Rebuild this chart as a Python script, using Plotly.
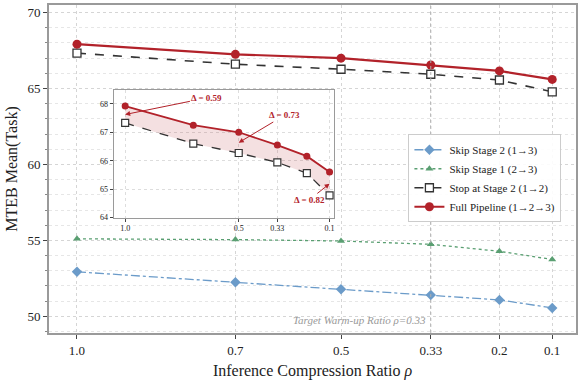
import plotly.graph_objects as go

rho = [1.0, 0.7, 0.5, 0.33, 0.2, 0.1]
rho_labels = ["1.0", "0.7", "0.5", "0.33", "0.2", "0.1"]
skip_stage2 = [52.93, 52.24, 51.78, 51.40, 51.08, 50.55]
skip_stage1 = [55.10, 55.05, 54.96, 54.74, 54.28, 53.74]
stop_stage2 = [67.33, 66.60, 66.27, 65.94, 65.56, 64.78]
full_pipeline = [67.92, 67.25, 67.00, 66.55, 66.16, 65.60]
inset_ticks = [1.0, 0.5, 0.33, 0.1]
inset_tick_labels = ["1.0", "0.5", "0.33", "0.1"]
delta_points = [1.0, 0.5, 0.1]
delta_text_pos = [(0.64, 68.21), (0.30, 67.59), (0.19, 64.62)]

RED = "#b2222a"
BLUE = "#6b9bc9"
GREEN = "#5a9f72"
BLACK = "#333333"
FONT = "Liberation Serif, Times New Roman, serif"

fig = go.Figure()

fig.add_trace(go.Scatter(x=rho, y=skip_stage2, name="Skip Stage 2 (1→3)", mode="lines+markers",
                         line=dict(color=BLUE, width=1.3, dash="dashdot"),
                         marker=dict(symbol="diamond", size=8, color=BLUE)))
fig.add_trace(go.Scatter(x=rho, y=skip_stage1, name="Skip Stage 1 (2→3)", mode="lines+markers",
                         line=dict(color=GREEN, width=1.3, dash="dot"),
                         marker=dict(symbol="triangle-up", size=7, color=GREEN)))
fig.add_trace(go.Scatter(x=rho, y=stop_stage2, name="Stop at Stage 2 (1→2)", mode="lines+markers",
                         line=dict(color=BLACK, width=1.6, dash="dash"),
                         marker=dict(symbol="square", size=8, color="white", line=dict(width=1.3, color=BLACK))))
fig.add_trace(go.Scatter(x=rho, y=full_pipeline, name="Full Pipeline (1→2→3)", mode="lines+markers",
                         line=dict(color=RED, width=2.2),
                         marker=dict(symbol="circle", size=9, color=RED)))

# inset
fig.add_trace(go.Scatter(x=rho, y=stop_stage2, mode="lines+markers", showlegend=False,
                         xaxis="x2", yaxis="y2",
                         line=dict(color=BLACK, width=1.3, dash="dash"),
                         marker=dict(symbol="square", size=7, color="white", line=dict(width=1.2, color=BLACK))))
fig.add_trace(go.Scatter(x=rho, y=full_pipeline, mode="lines+markers", showlegend=False,
                         xaxis="x2", yaxis="y2", fill="tonexty", fillcolor="rgba(178,34,42,0.14)",
                         line=dict(color=RED, width=1.8),
                         marker=dict(symbol="circle", size=7, color=RED)))

annotations = []
for xp, (tx, ty) in zip(delta_points, delta_text_pos):
    i = rho.index(xp)
    d = full_pipeline[i] - stop_stage2[i]
    mid = (full_pipeline[i] + stop_stage2[i]) / 2
    annotations.append(dict(x=xp, y=mid, xref="x2", yref="y2", ax=tx, ay=ty, axref="x2", ayref="y2",
                            text=f"<b>Δ = {d:.2f}</b>", showarrow=True, arrowhead=2, arrowsize=1,
                            arrowwidth=1, arrowcolor=RED,
                            font=dict(family=FONT, size=9, color=RED)))

annotations.append(dict(x=0.335, y=49.75, xref="x", yref="y", xanchor="right", yanchor="middle",
                        text="<i>Target Warm-up Ratio ρ=0.33</i>", showarrow=False,
                        font=dict(family=FONT, size=11, color="#999999")))

fig.add_shape(type="line", x0=0.33, x1=0.33, y0=0, y1=1, xref="x", yref="paper",
              line=dict(color="#b0b0b0", width=1, dash="dot"))

axis_common = dict(showline=True, linecolor="#9a9a9a", mirror=True, ticks="outside",
                   tickcolor="#444", zeroline=False)

fig.update_layout(
    width=581, height=380,
    margin=dict(l=49, r=3, t=3, b=47),
    paper_bgcolor="white", plot_bgcolor="white",
    font=dict(family=FONT, color="#222"),
    showlegend=True,
    legend=dict(x=0.682, y=0.606, xanchor="left", yanchor="top", traceorder="normal",
                bgcolor="rgba(255,255,255,0.9)", bordercolor="#cccccc", borderwidth=1,
                font=dict(family=FONT, size=11, color="#222"), tracegroupgap=0),
    xaxis=dict(**axis_common, linewidth=2, range=[1.053, 0.055], tickvals=rho, ticktext=rho_labels,
               ticklen=4, tickfont=dict(size=13),
               showgrid=True, gridcolor="#d5d5d5", griddash="dot", gridwidth=1,
               title=dict(text="Inference Compression Ratio <i>ρ</i>", font=dict(size=16), standoff=8)),
    yaxis=dict(**axis_common, linewidth=2, range=[48.9, 70.5], tickvals=[50, 55, 60, 65, 70],
               ticklen=4, tickfont=dict(size=13),
               showgrid=True, gridcolor="#d5d5d5", griddash="dot", gridwidth=1,
               minor=dict(dtick=1, ticks="outside", ticklen=2, tickcolor="#888",
                          showgrid=True, gridcolor="#e6e6e6", griddash="dot"),
               title=dict(text="MTEB Mean(Task)", font=dict(size=16), standoff=6)),
    xaxis2=dict(**axis_common, linewidth=1.3, domain=[0.123, 0.541], anchor="y2",
                range=[1.05, 0.08], tickvals=inset_ticks, ticktext=inset_tick_labels,
                ticklen=3, tickfont=dict(size=8),
                showgrid=True, gridcolor="#dddddd", griddash="dot"),
    yaxis2=dict(**axis_common, linewidth=1.3, domain=[0.352, 0.742], anchor="x2",
                range=[64, 68.5], tickvals=[64, 65, 66, 67, 68],
                ticklen=3, tickfont=dict(size=8),
                showgrid=True, gridcolor="#dddddd", griddash="dot"),
    annotations=annotations,
)

fig.write_html("out.html", config={"displayModeBar": False},
               post_script="document.body.style.margin='0';document.body.style.padding='0';")
